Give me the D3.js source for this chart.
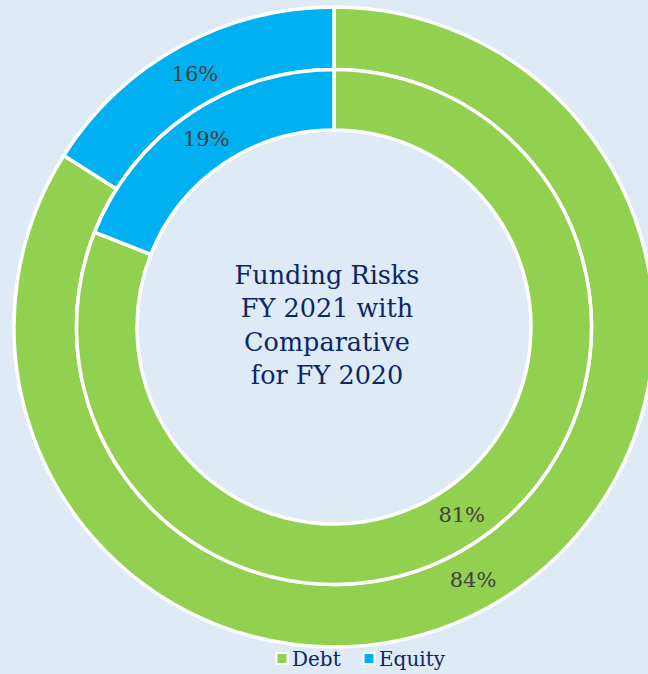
<!DOCTYPE html>
<html>
<head>
<meta charset="utf-8">
<script src="https://cdn.jsdelivr.net/npm/d3@7"></script>
<style>
  html, body { margin: 0; padding: 0; background: #DEEAF6; }
  svg { display: block; }
</style>
</head>
<body>
<svg id="chart" width="648" height="674"></svg>
<script>
// Funding mix, share of total funding (%)
const categories = ["Debt", "Equity"];
const fy2021 = [84, 16];   // outer ring
const fy2020 = [81, 19];   // inner ring
const colors = ["#92D050", "#00B0F0"];
const titleLines = ["Funding Risks", "FY 2021 with", "Comparative", "for FY 2020"];

const width = 648, height = 674;
const cx = 334, cy = 327;
const rOuter = 320, rMid = 257.5, rInner = 197;

const svg = d3.select("#chart");
svg.append("rect").attr("width", width).attr("height", height).attr("fill", "#DEEAF6");

const color = d3.scaleOrdinal().domain(categories).range(colors);
const pie = d3.pie().sort(null).value(d => d.value);

const rings = [
  { values: fy2021, inner: rMid, outer: rOuter },
  { values: fy2020, inner: rInner, outer: rMid }
];

const g = svg.append("g").attr("transform", `translate(${cx},${cy})`);

rings.forEach(ring => {
  const data = categories.map((c, i) => ({ cat: c, value: ring.values[i] }));
  const arcs = pie(data);
  const arc = d3.arc().innerRadius(ring.inner).outerRadius(ring.outer);
  const mid = (ring.inner + ring.outer) / 2;
  const labelArc = d3.arc().innerRadius(mid).outerRadius(mid);

  g.append("g").selectAll("path")
    .data(arcs)
    .join("path")
    .attr("d", arc)
    .attr("fill", d => color(d.data.cat))
    .attr("stroke", "#FFFFFF")
    .attr("stroke-width", 3.5)
    .attr("stroke-linejoin", "miter");

  g.append("g").selectAll("text")
    .data(arcs)
    .join("text")
    .attr("transform", d => `translate(${labelArc.centroid(d)})`)
    .attr("text-anchor", "middle")
    .attr("dominant-baseline", "central")
    .attr("font-family", "'DejaVu Serif', serif")
    .attr("font-size", 21)
    .attr("fill", "#404040")
    .text(d => d.data.value + "%");
});

// Centre title
const titleX = 327;
const title = svg.append("text")
  .attr("text-anchor", "middle")
  .attr("font-family", "'DejaVu Serif', serif")
  .attr("font-size", 25.5)
  .attr("fill", "#0B2766");
titleLines.forEach((line, i) => {
  title.append("tspan").attr("x", titleX).attr("y", 284 + i * 33.3).text(line);
});

// Legend
const legend = svg.append("g").attr("transform", "translate(276,666)");
const items = legend.selectAll("g")
  .data(categories)
  .join("g")
  .attr("transform", (d, i) => `translate(${i === 0 ? 0 : 87},0)`);
items.append("rect")
  .attr("x", 0.5).attr("y", -13)
  .attr("width", 11).attr("height", 11)
  .attr("fill", d => color(d))
  .attr("stroke", "#FFFFFF")
  .attr("stroke-width", 2);
items.append("text")
  .attr("x", 16)
  .attr("y", 0)
  .attr("font-family", "'DejaVu Serif', serif")
  .attr("font-size", 20)
  .attr("fill", "#0B2766")
  .text(d => d);
</script>
</body>
</html>
